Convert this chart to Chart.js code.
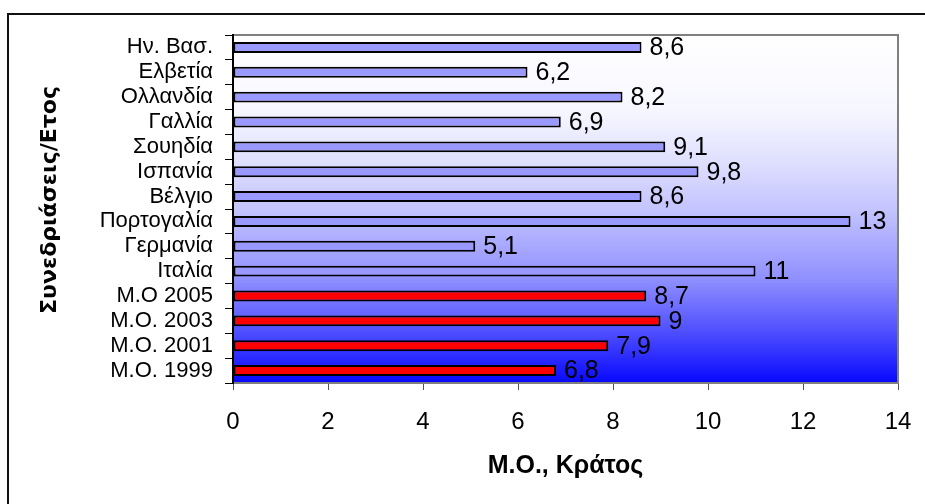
<!DOCTYPE html>
<html>
<head>
<meta charset="utf-8">
<script src="https://cdn.jsdelivr.net/npm/chart.js@4/dist/chart.umd.min.js"></script>
<style>
  html, body { margin: 0; padding: 0; background: #ffffff; }
  #wrap { width: 925px; height: 504px; position: relative; }
</style>
</head>
<body>
<div id="wrap"><canvas id="chart" width="925" height="504"></canvas></div>
<script>
// Average number of sessions per country / per year (top to bottom)
const categories = [
  'Ην. Βασ.', 'Ελβετία', 'Ολλανδία', 'Γαλλία', 'Σουηδία', 'Ισπανία', 'Βέλγιο',
  'Πορτογαλία', 'Γερμανία', 'Ιταλία', 'Μ.Ο 2005', 'Μ.Ο. 2003', 'Μ.Ο. 2001', 'Μ.Ο. 1999'
];
const values = [8.6, 6.2, 8.2, 6.9, 9.1, 9.8, 8.6, 13, 5.1, 11, 8.7, 9, 7.9, 6.8];
const xTicks = [0, 2, 4, 6, 8, 10, 12, 14];
const xTitle = 'Μ.Ο., Κράτος';
const yTitle = 'Συνεδριάσεις/Ετος';

const FONT = "'Liberation Sans', Arial, sans-serif";
const COUNTRY_FILL = '#9999ff';
const AVERAGE_FILL = '#ff0000';
const barFill = categories.map(c => c.startsWith('Μ.Ο') ? AVERAGE_FILL : COUNTRY_FILL);

// Outer frame and the white-to-blue plot background
const backdrop = {
  id: 'backdrop',
  beforeDraw(chart) {
    const ctx = chart.ctx;
    const a = chart.chartArea;
    ctx.save();
    ctx.fillStyle = '#ffffff';
    ctx.fillRect(0, 0, chart.width, chart.height);
    ctx.strokeStyle = '#111111';
    ctx.lineWidth = 2;
    ctx.strokeRect(8, 14, chart.width + 20, chart.height + 20);
    const g = ctx.createLinearGradient(0, a.top, 0, a.bottom);
    g.addColorStop(0.00, '#ffffff');
    g.addColorStop(0.22, '#f6f6ff');
    g.addColorStop(0.36, '#e0e0ff');
    g.addColorStop(0.50, '#c4c4ff');
    g.addColorStop(0.63, '#a2a2ff');
    g.addColorStop(0.70, '#9090ff');
    g.addColorStop(0.85, '#5050ff');
    g.addColorStop(1.00, '#0808ff');
    ctx.fillStyle = g;
    ctx.fillRect(a.left, a.top, a.right - a.left, a.bottom - a.top);
    ctx.strokeStyle = '#808080';
    ctx.lineWidth = 2;
    ctx.beginPath();
    ctx.moveTo(a.left, a.top);
    ctx.lineTo(a.right, a.top);
    ctx.lineTo(a.right, a.bottom);
    ctx.stroke();
    ctx.restore();
  }
};

// Value labels next to each bar and the rotated category-axis title
const annotations = {
  id: 'annotations',
  afterDatasetsDraw(chart) {
    const ctx = chart.ctx;
    const meta = chart.getDatasetMeta(0);
    ctx.save();
    ctx.fillStyle = '#000000';
    ctx.font = '25px ' + FONT;
    ctx.textAlign = 'left';
    ctx.textBaseline = 'middle';
    meta.data.forEach((bar, i) => {
      const txt = String(values[i]).replace('.', ',');
      ctx.fillText(txt, bar.x + 8, bar.y + 1);
    });
    ctx.translate(56, 200);
    ctx.rotate(-Math.PI / 2);
    ctx.font = "bold 22px 'DejaVu Sans', Verdana, sans-serif";
    ctx.textAlign = 'center';
    ctx.textBaseline = 'alphabetic';
    ctx.fillText(yTitle, 0, 0);
    ctx.restore();
  }
};

new Chart(document.getElementById('chart'), {
  type: 'bar',
  data: {
    labels: categories,
    datasets: [{
      data: values,
      backgroundColor: barFill,
      borderColor: '#000000',
      borderWidth: 2,
      borderSkipped: false,
      barPercentage: 0.44,
      categoryPercentage: 1
    }]
  },
  options: {
    indexAxis: 'y',
    responsive: false,
    animation: false,
    devicePixelRatio: 1,
    layout: { padding: { left: 8, top: 35, right: 27, bottom: 0 } },
    plugins: {
      legend: { display: false },
      tooltip: { enabled: false }
    },
    scales: {
      x: {
        min: 0,
        max: 14,
        afterBuildTicks(scale) { scale.ticks = xTicks.map(v => ({ value: v })); },
        ticks: {
          color: '#000000',
          font: { family: FONT, size: 24 },
          padding: 18,
          maxRotation: 0
        },
        grid: { drawOnChartArea: false, tickLength: 7, color: '#555555', lineWidth: 1 },
        border: { color: '#808080', width: 2 },
        title: {
          display: true,
          text: xTitle,
          color: '#000000',
          font: { family: FONT, size: 25, weight: 'bold' },
          padding: { top: 0, bottom: 23 }
        },
        afterFit(scale) {
          scale.height = 121;
          scale.paddingLeft = 0;
          scale.paddingRight = 0;
        }
      },
      y: {
        ticks: {
          color: '#000000',
          font: { family: FONT, size: 22 },
          padding: 12,
          autoSkip: false
        },
        grid: { drawOnChartArea: false, tickLength: 8, color: '#000000', lineWidth: 1, offset: true },
        border: { color: '#000000', width: 2 },
        afterFit(scale) {
          scale.width = 225;
          scale.paddingTop = 0;
          scale.paddingBottom = 0;
        }
      }
    }
  },
  plugins: [backdrop, annotations]
});
</script>
</body>
</html>
